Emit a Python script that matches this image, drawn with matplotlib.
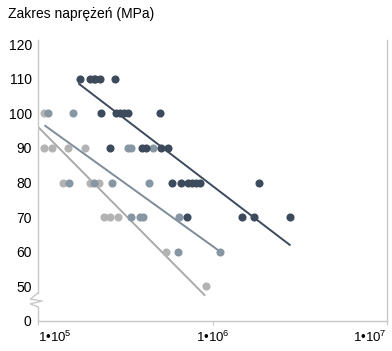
import matplotlib
matplotlib.use('Agg')
import matplotlib.pyplot as plt
from matplotlib.lines import Line2D

plt.rcParams['font.family'] = ['Liberation Sans', 'DejaVu Sans']
plt.rcParams['mathtext.fontset'] = 'custom'
plt.rcParams['mathtext.rm'] = 'Liberation Sans'
plt.rcParams['mathtext.it'] = 'Liberation Sans'

# cycles to failure / stress range (MPa); 40 on the axis is shown as "0" (broken axis)
dark_x = [1.74e5, 1.99e5, 2.10e5, 2.13e5, 2.27e5, 2.77e5,
          2.30e5, 2.81e5, 2.96e5, 3.12e5, 3.29e5, 5.02e5,
          2.59e5, 3.96e5, 4.18e5, 5.09e5, 5.59e5,
          5.89e5, 6.64e5, 7.28e5, 7.68e5, 8.09e5, 8.53e5, 1.84e6,
          7.18e5, 1.47e6, 1.74e6, 2.77e6]
dark_y = [110, 110, 110, 110, 110, 110,
          100, 100, 100, 100, 100, 100,
          90, 90, 90, 90, 90,
          80, 80, 80, 80, 80, 80, 80,
          70, 70, 70, 70]

mid_x = [1.14e5, 1.59e5,
         3.29e5, 3.42e5, 4.58e5,
         1.51e5, 2.10e5, 2.66e5, 4.35e5,
         3.42e5, 3.86e5, 4.01e5, 6.46e5,
         6.38e5, 1.11e6]
mid_y = [100, 100,
         90, 90, 90,
         80, 80, 80, 80,
         70, 70, 70, 70,
         60, 60]

light_x = [1.08e5,
           1.08e5, 1.20e5, 1.49e5, 1.86e5,
           1.39e5, 1.99e5, 2.24e5,
           2.40e5, 2.59e5, 2.88e5,
           5.44e5,
           9.12e5]
light_y = [100,
           90, 90, 90, 90,
           80, 80, 80,
           70, 70, 70,
           60,
           50]

# fitted lines (start, end)
dark_line_x = [1.72e5, 2.77e6]
dark_line_y = [108.5, 62.0]
mid_line_x = [1.10e5, 1.11e6]
mid_line_y = [96.4, 60.0]
light_line_x = [1.0e5, 9.0e5]
light_line_y = [96.1, 47.5]

yticks = [40, 50, 60, 70, 80, 90, 100, 110, 120]
ytick_labels = ['0', '50', '60', '70', '80', '90', '100', '110', '120']
xticks = [1e5, 1e6, 1e7]
xtick_labels = ['1•10$^{5}$', '1•10$^{6}$', '1•10$^{7}$']

dark = '#3c4a5c'
mid = '#8796a3'
light = '#b3b3b3'
spine_col = '#c8c8c8'

fig = plt.figure(figsize=(3.92, 3.51), dpi=100)
ax = fig.add_axes([38 / 392, 1 - 321 / 351, 349 / 392, 281 / 351])

ax.plot(light_line_x, light_line_y, color='#aaaaaa', lw=1.4, zorder=2)
ax.plot(mid_line_x, mid_line_y, color='#7d8c99', lw=1.4, zorder=2)
ax.plot(dark_line_x, dark_line_y, color=dark, lw=1.4, zorder=2)

ax.scatter(light_x, light_y, s=34, color=light, lw=0, zorder=3)
ax.scatter(mid_x, mid_y, s=34, color=mid, lw=0, zorder=3)
ax.scatter(dark_x, dark_y, s=34, color=dark, lw=0, zorder=3)

ax.set_xscale('log')
ax.set_xlim(1e5, 1e7)
ax.set_ylim(40, 121.2)
ax.minorticks_off()
ax.set_xticks(xticks)
ax.set_xticklabels(xtick_labels, fontsize=9.5)
labs = ax.get_xticklabels()
labs[0].set_ha('left')
labs[-1].set_ha('right')
ax.set_yticks(yticks)
ax.set_yticklabels(ytick_labels, fontsize=10)
ax.tick_params(axis='y', length=0, pad=4.5)
ax.tick_params(axis='x', length=3, color=spine_col, pad=3)

ax.spines['top'].set_visible(False)
ax.spines['left'].set_visible(False)
for s in ['right', 'bottom']:
    ax.spines[s].set_color(spine_col)
    ax.spines[s].set_linewidth(1.0)

# left spine with break mark
for seg in ([[0, 0], [0.10, 1.0]],
            [[0, -0.022, 0.012, -0.022, 0], [0.10, 0.078, 0.071, 0.061, 0.05]],
            [[0, 0], [0, 0.05]]):
    ax.add_line(Line2D(seg[0], seg[1], transform=ax.transAxes, color=spine_col,
                       lw=1.0, clip_on=False))

fig.text(8 / 392, 1 - 14 / 351, 'Zakres naprężeń (MPa)', fontsize=10, va='center', ha='left')

fig.savefig('out.png', dpi=100)
